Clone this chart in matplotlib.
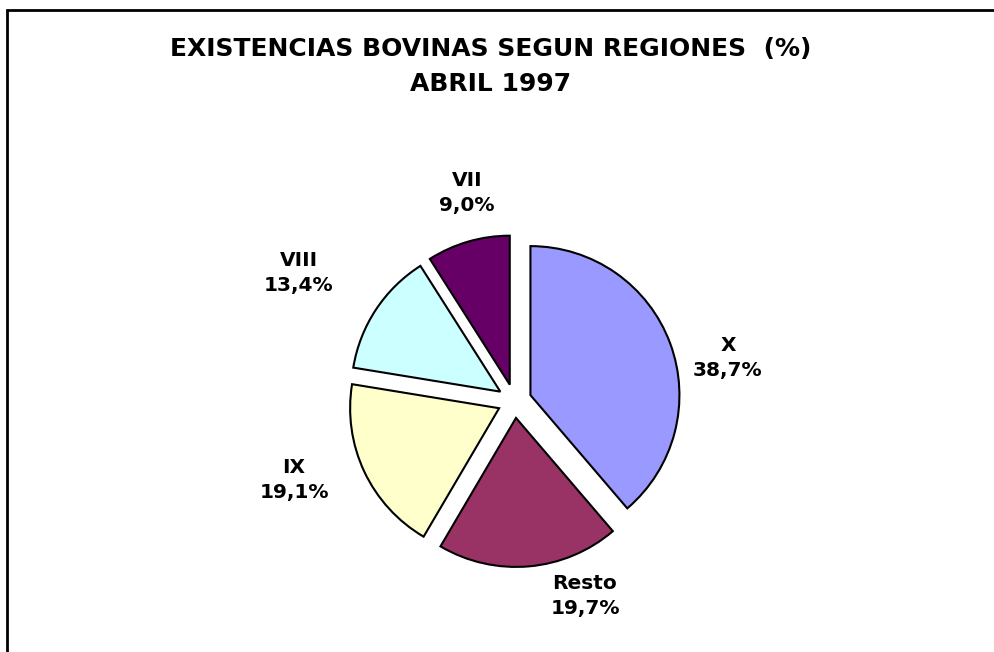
import matplotlib
matplotlib.use("Agg")
import matplotlib.pyplot as plt
from matplotlib.patches import Rectangle

# data
regions = ["X", "Resto", "IX", "VIII", "VII"]
shares = [38.7, 19.7, 19.1, 13.4, 9.0]
colors = ["#9999FF", "#993366", "#FFFFCC", "#CCFFFF", "#660066"]

W, H = 994, 652
# pie centre and radius in pixels
cx, cy, r = 514.5, 401, 149
# label block centres in pixels (Excel placement)
label_pos = [(728, 358), (585, 596), (294, 480), (299, 273), (467, 193)]

fig = plt.figure(figsize=(W / 100, H / 100), dpi=100)
ax = fig.add_axes([0, 0, 1, 1])

ax.pie(shares, colors=colors, startangle=90, counterclock=False,
       explode=[0.114] * len(shares), radius=1,
       wedgeprops=dict(edgecolor="black", linewidth=1.5))
# pie() resets the limits, so set them afterwards
ax.set_xlim(-cx / r, (W - cx) / r)
ax.set_ylim(-(H - cy) / r, cy / r)
ax.axis("off")

for name, val, (x, y) in zip(regions, shares, label_pos):
    txt = f"{name}\n{val:.1f}%".replace(".", ",")
    fig.text(x / W, 1 - y / H, txt, ha="center", va="center",
             fontsize=14.5, fontweight="bold", family="DejaVu Sans",
             linespacing=1.4)

fig.text(491 / W, 1 - 49 / H, "EXISTENCIAS BOVINAS SEGUN REGIONES  (%)",
         ha="center", va="center", fontsize=18, fontweight="bold",
         family="DejaVu Sans")
fig.text(491 / W, 1 - 84 / H, "ABRIL 1997", ha="center", va="center",
         fontsize=18, fontweight="bold", family="DejaVu Sans")

# chart frame, cut off at right and bottom
top = 1 - 10 / H
fig.add_artist(Rectangle((7 / W, -0.2), 1.2, top + 0.2,
                         transform=fig.transFigure, fill=False,
                         edgecolor="black", linewidth=2))

fig.savefig("out.png", dpi=100)
